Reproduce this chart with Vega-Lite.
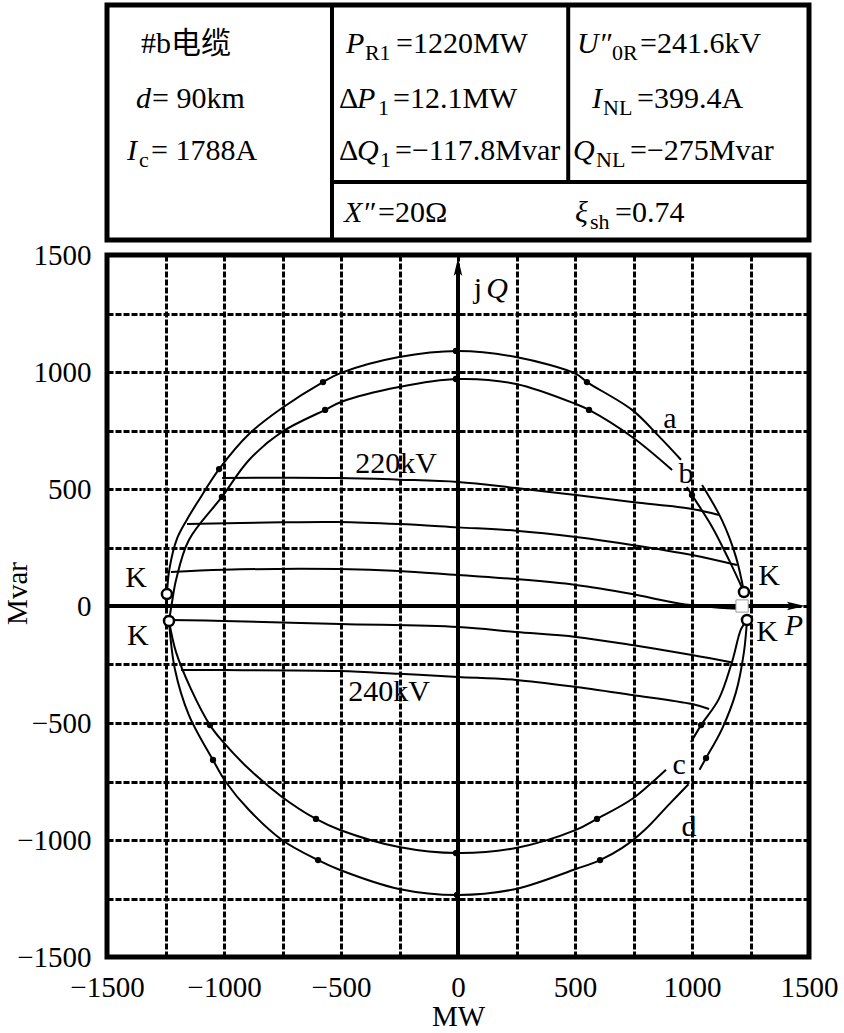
{
  "$schema": "https://vega.github.io/schema/vega-lite/v6.json",
  "background": "white",
  "padding": {"left": 0, "top": 0, "right": 0, "bottom": 0},
  "spacing": 15,
  "bounds": "flush",
  "config": {
    "view": {"stroke": "black", "strokeWidth": 5},
    "font": "Liberation Serif",
    "axis": {"labelFont": "Liberation Serif", "titleFont": "Liberation Serif", "labelColor": "black", "titleColor": "black", "titleFontWeight": "normal"}
  },
  "datasets": {
    "tbl": [
      {"t": "#b电缆", "x": 4.84, "y": 20.4, "k": "n"},
      {"t": "P", "x": 34.05, "y": 20.4, "k": "i"},
      {"t": "R1", "x": 36.74, "y": 23.4, "k": "s"},
      {"t": "=1220MW", "x": 41.17, "y": 20.4, "k": "n"},
      {"t": "U″", "x": 66.95, "y": 20.4, "k": "i"},
      {"t": "0R", "x": 71.94, "y": 23.4, "k": "s"},
      {"t": "=241.6kV", "x": 75.93, "y": 20.4, "k": "n"},
      {"t": "d", "x": 4.13, "y": 43.8, "k": "i"},
      {"t": "= 90km", "x": 6.41, "y": 43.8, "k": "n"},
      {"t": "Δ", "x": 33.05, "y": 43.8, "k": "n"},
      {"t": "P", "x": 35.61, "y": 43.8, "k": "i"},
      {"t": "1", "x": 38.6, "y": 46.8, "k": "s"},
      {"t": "=12.1MW", "x": 40.74, "y": 43.8, "k": "n"},
      {"t": "I", "x": 69.09, "y": 43.8, "k": "i"},
      {"t": "NL", "x": 70.66, "y": 46.8, "k": "s"},
      {"t": "=399.4A", "x": 75.5, "y": 43.8, "k": "n"},
      {"t": "I", "x": 2.85, "y": 66.0, "k": "i"},
      {"t": "c", "x": 4.56, "y": 69.0, "k": "s"},
      {"t": "= 1788A", "x": 6.27, "y": 66.0, "k": "n"},
      {"t": "Δ", "x": 33.05, "y": 66.0, "k": "n"},
      {"t": "Q", "x": 35.61, "y": 66.0, "k": "i"},
      {"t": "1", "x": 38.89, "y": 69.0, "k": "s"},
      {"t": "=−117.8Mvar", "x": 41.03, "y": 66.0, "k": "n"},
      {"t": "Q", "x": 66.38, "y": 66.0, "k": "i"},
      {"t": "NL", "x": 69.66, "y": 69.0, "k": "s"},
      {"t": "=−275Mvar", "x": 74.5, "y": 66.0, "k": "n"},
      {"t": "X″", "x": 33.76, "y": 92.3, "k": "i"},
      {"t": "=20Ω", "x": 38.6, "y": 92.3, "k": "n"},
      {"t": "ξ", "x": 66.67, "y": 92.3, "k": "i"},
      {"t": "sh", "x": 68.8, "y": 95.3, "k": "s"},
      {"t": "=0.74", "x": 72.36, "y": 92.3, "k": "n"}
    ],
    "tblrules": [
      {"x": 32.05, "x2": 32.05, "y": 0, "y2": 100},
      {"x": 65.7, "x2": 65.7, "y": 0, "y2": 75.3},
      {"x": 32.05, "x2": 100, "y": 75.3, "y2": 75.3}
    ],
    "curves": [
      {"s": "a1", "o": 1, "P": -1244, "Q": 51},
      {"s": "a1", "o": 2, "P": -1233, "Q": 160},
      {"s": "a1", "o": 3, "P": -1200, "Q": 290},
      {"s": "a1", "o": 4, "P": -1158, "Q": 370},
      {"s": "a1", "o": 5, "P": -1107, "Q": 453},
      {"s": "a1", "o": 6, "P": -1021, "Q": 585},
      {"s": "a1", "o": 7, "P": -893, "Q": 735},
      {"s": "a1", "o": 8, "P": -752, "Q": 846},
      {"s": "a1", "o": 9, "P": -577, "Q": 957},
      {"s": "a1", "o": 10, "P": -500, "Q": 996},
      {"s": "a1", "o": 11, "P": -252, "Q": 1064},
      {"s": "a1", "o": 12, "P": 0, "Q": 1090},
      {"s": "a1", "o": 13, "P": 248, "Q": 1064},
      {"s": "a1", "o": 14, "P": 504, "Q": 992},
      {"s": "a1", "o": 15, "P": 551, "Q": 957},
      {"s": "a1", "o": 16, "P": 744, "Q": 838},
      {"s": "a1", "o": 17, "P": 859, "Q": 725},
      {"s": "a1", "o": 18, "P": 953, "Q": 625},
      {"s": "a2", "o": 1, "P": 1043, "Q": 517},
      {"s": "a2", "o": 2, "P": 1128, "Q": 367},
      {"s": "a2", "o": 3, "P": 1188, "Q": 209},
      {"s": "a2", "o": 4, "P": 1222, "Q": 60},
      {"s": "b1", "o": 1, "P": -1235, "Q": -64},
      {"s": "b1", "o": 2, "P": -1222, "Q": 17},
      {"s": "b1", "o": 3, "P": -1205, "Q": 111},
      {"s": "b1", "o": 4, "P": -1150, "Q": 282},
      {"s": "b1", "o": 5, "P": -1009, "Q": 466},
      {"s": "b1", "o": 6, "P": -893, "Q": 624},
      {"s": "b1", "o": 7, "P": -752, "Q": 744},
      {"s": "b1", "o": 8, "P": -568, "Q": 838},
      {"s": "b1", "o": 9, "P": -500, "Q": 872},
      {"s": "b1", "o": 10, "P": -252, "Q": 936},
      {"s": "b1", "o": 11, "P": 0, "Q": 970},
      {"s": "b1", "o": 12, "P": 248, "Q": 949},
      {"s": "b1", "o": 13, "P": 504, "Q": 863},
      {"s": "b1", "o": 14, "P": 560, "Q": 838},
      {"s": "b1", "o": 15, "P": 744, "Q": 722},
      {"s": "b1", "o": 16, "P": 915, "Q": 581},
      {"s": "b2", "o": 1, "P": 978, "Q": 508},
      {"s": "b2", "o": 2, "P": 1000, "Q": 474},
      {"s": "b2", "o": 3, "P": 1086, "Q": 338},
      {"s": "b2", "o": 4, "P": 1158, "Q": 197},
      {"s": "b2", "o": 5, "P": 1222, "Q": 60},
      {"s": "c1", "o": 1, "P": -1235, "Q": -64},
      {"s": "c1", "o": 2, "P": -1205, "Q": -197},
      {"s": "c1", "o": 3, "P": -1141, "Q": -355},
      {"s": "c1", "o": 4, "P": -1060, "Q": -509},
      {"s": "c1", "o": 5, "P": -1004, "Q": -581},
      {"s": "c1", "o": 6, "P": -893, "Q": -697},
      {"s": "c1", "o": 7, "P": -752, "Q": -816},
      {"s": "c1", "o": 8, "P": -607, "Q": -910},
      {"s": "c1", "o": 9, "P": -504, "Q": -957},
      {"s": "c1", "o": 10, "P": -252, "Q": -1030},
      {"s": "c1", "o": 11, "P": 0, "Q": -1056},
      {"s": "c1", "o": 12, "P": 248, "Q": -1034},
      {"s": "c1", "o": 13, "P": 504, "Q": -957},
      {"s": "c1", "o": 14, "P": 594, "Q": -910},
      {"s": "c1", "o": 15, "P": 744, "Q": -825},
      {"s": "c1", "o": 16, "P": 846, "Q": -739},
      {"s": "c1", "o": 17, "P": 889, "Q": -700},
      {"s": "c2", "o": 1, "P": 996, "Q": -581},
      {"s": "c2", "o": 2, "P": 1039, "Q": -509},
      {"s": "c2", "o": 3, "P": 1115, "Q": -397},
      {"s": "c2", "o": 4, "P": 1171, "Q": -239},
      {"s": "c2", "o": 5, "P": 1210, "Q": -98},
      {"s": "c2", "o": 6, "P": 1235, "Q": -60},
      {"s": "d1", "o": 1, "P": -1235, "Q": -64},
      {"s": "d1", "o": 2, "P": -1210, "Q": -269},
      {"s": "d1", "o": 3, "P": -1150, "Q": -466},
      {"s": "d1", "o": 4, "P": -1047, "Q": -658},
      {"s": "d1", "o": 5, "P": -992, "Q": -752},
      {"s": "d1", "o": 6, "P": -893, "Q": -872},
      {"s": "d1", "o": 7, "P": -752, "Q": -1000},
      {"s": "d1", "o": 8, "P": -598, "Q": -1086},
      {"s": "d1", "o": 9, "P": -504, "Q": -1128},
      {"s": "d1", "o": 10, "P": -252, "Q": -1209},
      {"s": "d1", "o": 11, "P": 0, "Q": -1235},
      {"s": "d1", "o": 12, "P": 248, "Q": -1209},
      {"s": "d1", "o": 13, "P": 504, "Q": -1124},
      {"s": "d1", "o": 14, "P": 607, "Q": -1086},
      {"s": "d1", "o": 15, "P": 700, "Q": -1035},
      {"s": "d1", "o": 16, "P": 800, "Q": -955},
      {"s": "d1", "o": 17, "P": 900, "Q": -850},
      {"s": "d1", "o": 18, "P": 985, "Q": -762},
      {"s": "d2", "o": 1, "P": 1032, "Q": -700},
      {"s": "d2", "o": 2, "P": 1060, "Q": -650},
      {"s": "d2", "o": 3, "P": 1128, "Q": -526},
      {"s": "d2", "o": 4, "P": 1188, "Q": -368},
      {"s": "d2", "o": 5, "P": 1222, "Q": -197},
      {"s": "d2", "o": 6, "P": 1235, "Q": -60},
      {"s": "L1", "o": 1, "P": -1008, "Q": 547},
      {"s": "L1", "o": 2, "P": -509, "Q": 547},
      {"s": "L1", "o": 3, "P": -252, "Q": 540},
      {"s": "L1", "o": 4, "P": 0, "Q": 530},
      {"s": "L1", "o": 5, "P": 248, "Q": 504},
      {"s": "L1", "o": 6, "P": 504, "Q": 474},
      {"s": "L1", "o": 7, "P": 744, "Q": 444},
      {"s": "L1", "o": 8, "P": 1000, "Q": 415},
      {"s": "L1", "o": 9, "P": 1115, "Q": 389},
      {"s": "L2", "o": 1, "P": -1158, "Q": 350},
      {"s": "L2", "o": 2, "P": -752, "Q": 358},
      {"s": "L2", "o": 3, "P": -509, "Q": 359},
      {"s": "L2", "o": 4, "P": -252, "Q": 350},
      {"s": "L2", "o": 5, "P": 0, "Q": 336},
      {"s": "L2", "o": 6, "P": 248, "Q": 322},
      {"s": "L2", "o": 7, "P": 504, "Q": 295},
      {"s": "L2", "o": 8, "P": 744, "Q": 261},
      {"s": "L2", "o": 9, "P": 1000, "Q": 218},
      {"s": "L2", "o": 10, "P": 1192, "Q": 175},
      {"s": "L3", "o": 1, "P": -1227, "Q": 145},
      {"s": "L3", "o": 2, "P": -1000, "Q": 155},
      {"s": "L3", "o": 3, "P": -509, "Q": 158},
      {"s": "L3", "o": 4, "P": -252, "Q": 150},
      {"s": "L3", "o": 5, "P": 0, "Q": 132},
      {"s": "L3", "o": 6, "P": 248, "Q": 115},
      {"s": "L3", "o": 7, "P": 504, "Q": 90},
      {"s": "L3", "o": 8, "P": 744, "Q": 51},
      {"s": "L3", "o": 9, "P": 950, "Q": 10},
      {"s": "L3", "o": 10, "P": 1194, "Q": -12},
      {"s": "L4", "o": 1, "P": -1235, "Q": -60},
      {"s": "L4", "o": 2, "P": -1000, "Q": -64},
      {"s": "L4", "o": 3, "P": -504, "Q": -77},
      {"s": "L4", "o": 4, "P": 0, "Q": -90},
      {"s": "L4", "o": 5, "P": 248, "Q": -111},
      {"s": "L4", "o": 6, "P": 504, "Q": -132},
      {"s": "L4", "o": 7, "P": 744, "Q": -167},
      {"s": "L4", "o": 8, "P": 1000, "Q": -209},
      {"s": "L4", "o": 9, "P": 1167, "Q": -240},
      {"s": "L5", "o": 1, "P": -1184, "Q": -274},
      {"s": "L5", "o": 2, "P": -1004, "Q": -274},
      {"s": "L5", "o": 3, "P": -504, "Q": -278},
      {"s": "L5", "o": 4, "P": -252, "Q": -290},
      {"s": "L5", "o": 5, "P": 0, "Q": -303},
      {"s": "L5", "o": 6, "P": 248, "Q": -316},
      {"s": "L5", "o": 7, "P": 504, "Q": -346},
      {"s": "L5", "o": 8, "P": 744, "Q": -380},
      {"s": "L5", "o": 9, "P": 1000, "Q": -419},
      {"s": "L5", "o": 10, "P": 1073, "Q": -440}
    ],
    "dots": [
      {"P": -1021, "Q": 585}, {"P": -577, "Q": 957}, {"P": -9, "Q": 1090}, {"P": 551, "Q": 957},
      {"P": -1009, "Q": 466}, {"P": -568, "Q": 838}, {"P": -9, "Q": 970}, {"P": 560, "Q": 838}, {"P": 1000, "Q": 474},
      {"P": -1060, "Q": -509}, {"P": -607, "Q": -910}, {"P": -9, "Q": -1056}, {"P": 594, "Q": -910}, {"P": 1039, "Q": -509},
      {"P": -1047, "Q": -658}, {"P": -598, "Q": -1086}, {"P": -4, "Q": -1235}, {"P": 607, "Q": -1086}, {"P": 1060, "Q": -650}
    ],
    "kpoints": [
      {"P": -1244, "Q": 51}, {"P": -1235, "Q": -64}, {"P": 1222, "Q": 60}, {"P": 1235, "Q": -60}
    ],
    "pr1": [{"P": 1214, "Q": 0}],
    "axislines": [
      {"P": -1500, "Q": 0, "P2": 1440, "Q2": 0},
      {"P": 0, "Q": -1500, "P2": 0, "Q2": 1440}
    ],
    "arrows": [
      {"dir": "up", "P": 0, "Q": 1445},
      {"dir": "right", "P": 1440, "Q": 0}
    ],
    "labels": [
      {"t": "K", "P": -1376, "Q": 120},
      {"t": "K", "P": -1368, "Q": -128},
      {"t": "K", "P": 1329, "Q": 128},
      {"t": "K", "P": 1321, "Q": -111},
      {"t": "220kV", "P": -265, "Q": 607},
      {"t": "240kV", "P": -295, "Q": -368},
      {"t": "a", "P": 906, "Q": 799},
      {"t": "b", "P": 974, "Q": 564},
      {"t": "c", "P": 945, "Q": -680},
      {"t": "d", "P": 987, "Q": -945},
      {"t": "j", "P": 85, "Q": 1355}
    ],
    "italics": [
      {"t": "Q", "P": 167, "Q": 1355},
      {"t": "P", "P": 1436, "Q": -85}
    ]
  },
  "vconcat": [
    {
      "width": 702,
      "height": 235,
      "encoding": {
        "x": {"field": "x", "type": "quantitative", "scale": {"domain": [0, 100], "nice": false, "zero": false}, "axis": null},
        "y": {"field": "y", "type": "quantitative", "scale": {"domain": [0, 100], "nice": false, "zero": false, "reverse": true}, "axis": null}
      },
      "layer": [
        {
          "data": {"name": "tblrules"},
          "mark": {"type": "rule", "color": "black", "strokeWidth": 4},
          "encoding": {"x2": {"field": "x2"}, "y2": {"field": "y2"}}
        },
        {
          "data": {"name": "tbl"},
          "transform": [{"filter": "datum.k === 'n'"}],
          "mark": {"type": "text", "font": "Liberation Serif, Noto Sans CJK SC", "fontSize": 30, "color": "black", "align": "left", "baseline": "alphabetic"},
          "encoding": {"text": {"field": "t"}}
        },
        {
          "data": {"name": "tbl"},
          "transform": [{"filter": "datum.k === 'i'"}],
          "mark": {"type": "text", "font": "Liberation Serif", "fontStyle": "italic", "fontSize": 30, "color": "black", "align": "left", "baseline": "alphabetic"},
          "encoding": {"text": {"field": "t"}}
        },
        {
          "data": {"name": "tbl"},
          "transform": [{"filter": "datum.k === 's'"}],
          "mark": {"type": "text", "font": "Liberation Serif", "fontSize": 22, "color": "black", "align": "left", "baseline": "alphabetic"},
          "encoding": {"text": {"field": "t"}}
        }
      ]
    },
    {
      "width": 702,
      "height": 702,
      "encoding": {
        "x": {
          "field": "P", "type": "quantitative",
          "scale": {"domain": [-1500, 1500], "nice": false, "zero": false},
          "axis": {
            "title": "MW", "titleFontSize": 29, "titlePadding": 0, "format": "d",
            "values": [-1500, -1250, -1000, -750, -500, -250, 0, 250, 500, 750, 1000, 1250, 1500],
            "labelExpr": "datum.value % 500 === 0 ? datum.label : ''",
            "labelFontSize": 29, "labelPadding": 16, "labelFlush": false, "labelOverlap": false,
            "grid": true, "gridColor": "black", "gridDash": [6, 2], "gridWidth": 3, "gridOpacity": 1,
            "ticks": false, "tickSize": 0, "domain": false
          }
        },
        "y": {
          "field": "Q", "type": "quantitative",
          "scale": {"domain": [-1500, 1500], "nice": false, "zero": false},
          "axis": {
            "title": "Mvar", "titleFontSize": 29, "titleAngle": 270, "titleBaseline": "bottom", "titleAlign": "center", "titleX": -75, "titleY": 338, "format": "d",
            "values": [-1500, -1250, -1000, -750, -500, -250, 0, 250, 500, 750, 1000, 1250, 1500],
            "labelExpr": "datum.value % 500 === 0 ? datum.label : ''",
            "labelFontSize": 29, "labelPadding": 16, "labelFlush": false, "labelOverlap": false,
            "grid": true, "gridColor": "black", "gridDash": [6, 2], "gridWidth": 3, "gridOpacity": 1,
            "ticks": false, "tickSize": 0, "domain": false
          }
        }
      },
      "layer": [
        {
          "data": {"name": "curves"},
          "mark": {"type": "line", "interpolate": "catmull-rom", "color": "black", "strokeWidth": 2},
          "encoding": {"detail": {"field": "s"}, "order": {"field": "o"}}
        },
        {
          "data": {"name": "axislines"},
          "mark": {"type": "rule", "color": "black", "strokeWidth": 4},
          "encoding": {"x2": {"field": "P2"}, "y2": {"field": "Q2"}}
        },
        {
          "data": {"name": "arrows"},
          "transform": [{"filter": "datum.dir === 'up'"}],
          "mark": {"type": "point", "shape": "M0,-1L0.42,0.8L0,0.45L-0.42,0.8Z", "filled": true, "color": "black", "size": 400, "opacity": 1, "strokeWidth": 0},
          "encoding": {}
        },
        {
          "data": {"name": "arrows"},
          "transform": [{"filter": "datum.dir === 'right'"}],
          "mark": {"type": "point", "shape": "M1,0L-0.8,0.42L-0.45,0L-0.8,-0.42Z", "filled": true, "color": "black", "size": 400, "opacity": 1, "strokeWidth": 0},
          "encoding": {}
        },
        {
          "data": {"name": "dots"},
          "mark": {"type": "circle", "color": "black", "size": 40, "opacity": 1},
          "encoding": {}
        },
        {
          "data": {"name": "pr1"},
          "mark": {"type": "square", "fill": "white", "stroke": "#999999", "strokeWidth": 1, "size": 150, "opacity": 1},
          "encoding": {}
        },
        {
          "data": {"name": "kpoints"},
          "mark": {"type": "point", "shape": "circle", "filled": true, "fill": "white", "stroke": "black", "strokeWidth": 2.5, "size": 100, "opacity": 1},
          "encoding": {}
        },
        {
          "data": {"name": "labels"},
          "mark": {"type": "text", "font": "Liberation Serif", "fontSize": 30, "color": "black", "align": "center", "baseline": "middle"},
          "encoding": {"text": {"field": "t"}}
        },
        {
          "data": {"name": "italics"},
          "mark": {"type": "text", "font": "Liberation Serif", "fontStyle": "italic", "fontSize": 30, "color": "black", "align": "center", "baseline": "middle"},
          "encoding": {"text": {"field": "t"}}
        }
      ]
    }
  ]
}
